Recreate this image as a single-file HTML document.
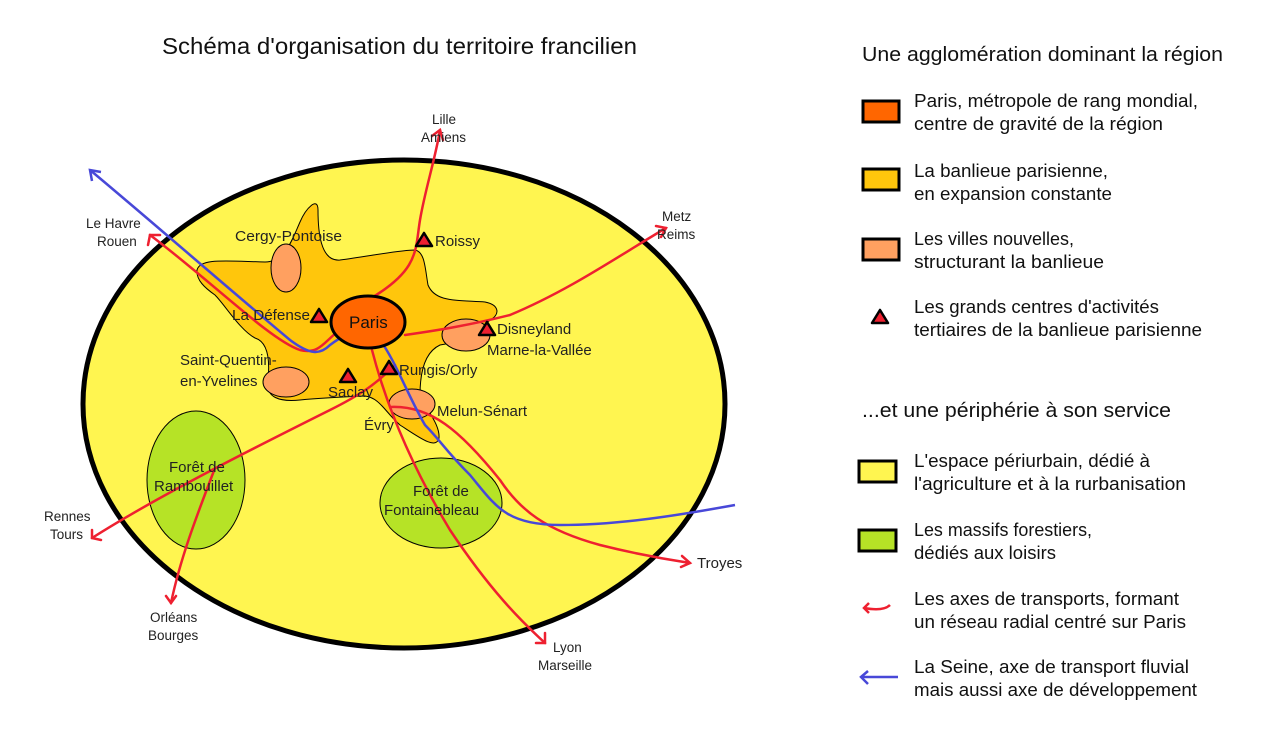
<!DOCTYPE html>
<html><head><meta charset="utf-8"><style>
html,body{margin:0;padding:0;background:#fff;}
svg{display:block;font-family:"Liberation Sans","DejaVu Sans",sans-serif;}
</style></head><body>
<svg width="1263" height="738" viewBox="0 0 1263 738" xmlns="http://www.w3.org/2000/svg">
<text x="162" y="54" font-size="23" fill="#111" textLength="475" lengthAdjust="spacingAndGlyphs">Schéma d'organisation du territoire francilien</text>

<ellipse cx="404" cy="404" rx="321" ry="244" fill="#fff550" stroke="#000" stroke-width="5"/>
<ellipse cx="196" cy="480" rx="49" ry="69" fill="#b6e326" stroke="#000" stroke-width="1"/>
<ellipse cx="441" cy="503" rx="61" ry="45" fill="#b6e326" stroke="#000" stroke-width="1"/>

<path d="M197,270 C200,258 225,261 265,262 C285,262 292,240 300,222 C306,208 318,196 318,210 C318,230 320,262 340,260 C370,256 400,250 415,250 C425,252 425,268 428,285 C435,302 455,300 485,302 C500,305 500,315 490,320 C480,330 465,342 440,345 C425,352 420,372 420,395 C428,412 440,425 439,438 C436,450 420,438 400,425 C385,412 380,398 365,396 C340,397 320,398 300,400 C280,402 265,398 268,380 C270,360 268,342 255,338 C240,330 225,305 215,295 C205,288 196,280 197,270 Z" fill="#ffc60c" stroke="#000" stroke-width="1"/>

<ellipse cx="286" cy="268" rx="15" ry="24" fill="#ffa060" stroke="#000" stroke-width="1"/>
<ellipse cx="286" cy="382" rx="23" ry="15" fill="#ffa060" stroke="#000" stroke-width="1"/>
<ellipse cx="466" cy="335" rx="24" ry="16" fill="#ffa060" stroke="#000" stroke-width="1"/>
<ellipse cx="412" cy="404" rx="23" ry="15" fill="#ffa060" stroke="#000" stroke-width="1"/>

<g fill="none" stroke="#ee2030" stroke-width="2.5" stroke-linecap="round">
<path d="M368,300 C420,270 415,250 420,220 C425,190 435,160 440,130"/>
<path d="M150,235 C210,280 270,340 300,350 C320,355 325,340 340,330"/>
<path d="M405,335 C440,330 470,325 510,315 C570,290 620,255 666,228"/>
<path d="M92,538 C160,495 250,450 330,410 C360,395 375,385 395,365"/>
<path d="M215,468 C195,520 180,560 171,603"/>
<path d="M372,350 C390,420 420,480 450,530 C490,590 520,620 545,643"/>
<path d="M390,407 C430,405 460,430 500,480 C520,510 545,530 600,545 C640,555 670,560 690,563"/>
</g>
<g fill="none" stroke="#ee2030" stroke-width="2.5" stroke-linecap="round">
<path d="M432,136 L440,130 L443,140"/>
<path d="M148,245 L150,235 L160,235"/>
<path d="M656,226 L666,228 L661,237"/>
<path d="M92,530 L92,538 L101,540"/>
<path d="M166,596 L171,603 L176,596"/>
<path d="M545,633 L545,643 L536,643"/>
<path d="M682,556 L690,563 L681,567"/>
</g>

<path d="M90,170 C150,220 230,290 290,340 C310,355 320,355 330,345 C350,330 368,325 380,340 C395,360 410,400 425,425 C440,440 445,450 470,475 C495,505 505,525 560,525 C620,525 680,515 735,505" fill="none" stroke="#4848d8" stroke-width="2.5"/>
<path d="M92,181 L90,170 L101,172" fill="none" stroke="#4848d8" stroke-width="2.5"/>

<ellipse cx="368" cy="322" rx="37" ry="26" fill="#ff6600" stroke="#000" stroke-width="3"/>
<text x="349" y="328" font-size="17" fill="#111">Paris</text>

<g fill="#ee2030" stroke="#000" stroke-width="2.5" stroke-linejoin="round">
<polygon points="424,233 432,246 416,246"/>
<polygon points="319,309 327,322 311,322"/>
<polygon points="487,322 495,335 479,335"/>
<polygon points="348,369 356,382 340,382"/>
<polygon points="389,361 397,374 381,374"/>
</g>

<g font-size="15" fill="#222">
<text x="235" y="241" textLength="107" lengthAdjust="spacingAndGlyphs">Cergy-Pontoise</text>
<text x="435" y="246">Roissy</text>
<text x="232" y="320" textLength="78" lengthAdjust="spacingAndGlyphs">La Défense</text>
<text x="497" y="334">Disneyland</text>
<text x="487" y="355">Marne-la-Vallée</text>
<text x="180" y="365">Saint-Quentin-</text>
<text x="180" y="386">en-Yvelines</text>
<text x="399" y="375">Rungis/Orly</text>
<text x="328" y="397">Saclay</text>
<text x="437" y="416">Melun-Sénart</text>
<text x="364" y="430">Évry</text>
<text x="169" y="472">Forêt de</text>
<text x="154" y="491">Rambouillet</text>
<text x="413" y="496">Forêt de</text>
<text x="384" y="515">Fontainebleau</text>
</g>
<g font-size="13.5" fill="#222">
<text x="432" y="124">Lille</text>
<text x="421" y="142">Amiens</text>
<text x="86" y="228">Le Havre</text>
<text x="97" y="246">Rouen</text>
<text x="662" y="221">Metz</text>
<text x="657" y="239">Reims</text>
<text x="44" y="521">Rennes</text>
<text x="50" y="539">Tours</text>
<text x="150" y="622">Orléans</text>
<text x="148" y="640">Bourges</text>
<text x="697" y="568" font-size="15">Troyes</text>
<text x="553" y="652">Lyon</text>
<text x="538" y="670">Marseille</text>
</g>

<g font-size="18" fill="#111">
<text x="862" y="61" font-size="20" textLength="361" lengthAdjust="spacingAndGlyphs">Une agglomération dominant la région</text>
<rect x="863" y="101" width="36" height="21" fill="#ff6600" stroke="#000" stroke-width="3"/>
<text x="914" y="107" textLength="284" lengthAdjust="spacingAndGlyphs">Paris, métropole de rang mondial,</text>
<text x="914" y="130" textLength="249" lengthAdjust="spacingAndGlyphs">centre de gravité de la région</text>
<rect x="863" y="169" width="36" height="21" fill="#ffc60c" stroke="#000" stroke-width="3"/>
<text x="914" y="177" textLength="194" lengthAdjust="spacingAndGlyphs">La banlieue parisienne,</text>
<text x="914" y="200" textLength="198" lengthAdjust="spacingAndGlyphs">en expansion constante</text>
<rect x="863" y="239" width="36" height="21" fill="#ffa060" stroke="#000" stroke-width="3"/>
<text x="914" y="245" textLength="160" lengthAdjust="spacingAndGlyphs">Les villes nouvelles,</text>
<text x="914" y="268" textLength="190" lengthAdjust="spacingAndGlyphs">structurant la banlieue</text>
<polygon points="880,310 888,323 872,323" fill="#ee2030" stroke="#000" stroke-width="2.5" stroke-linejoin="round"/>
<text x="914" y="313" textLength="245" lengthAdjust="spacingAndGlyphs">Les grands centres d'activités</text>
<text x="914" y="336" textLength="288" lengthAdjust="spacingAndGlyphs">tertiaires de la banlieue parisienne</text>
<text x="862" y="417" font-size="20" textLength="309" lengthAdjust="spacingAndGlyphs">...et une périphérie à son service</text>
<rect x="859" y="461" width="37" height="21" fill="#fff550" stroke="#000" stroke-width="3"/>
<text x="914" y="467" textLength="236" lengthAdjust="spacingAndGlyphs">L'espace périurbain, dédié à</text>
<text x="914" y="490" textLength="272" lengthAdjust="spacingAndGlyphs">l'agriculture et à la rurbanisation</text>
<rect x="859" y="530" width="37" height="21" fill="#b6e326" stroke="#000" stroke-width="3"/>
<text x="914" y="536" textLength="178" lengthAdjust="spacingAndGlyphs">Les massifs forestiers,</text>
<text x="914" y="559" textLength="142" lengthAdjust="spacingAndGlyphs">dédiés aux loisirs</text>
<path d="M864,608 C875,610 885,610 890,605" fill="none" stroke="#ee2030" stroke-width="2.5"/>
<path d="M869,603 L864,608 L869,613" fill="none" stroke="#ee2030" stroke-width="2.5"/>
<text x="914" y="605" textLength="265" lengthAdjust="spacingAndGlyphs">Les axes de transports, formant</text>
<text x="914" y="628" textLength="272" lengthAdjust="spacingAndGlyphs">un réseau radial centré sur Paris</text>
<path d="M861,677 L898,677" fill="none" stroke="#4848d8" stroke-width="2.5"/>
<path d="M868,671 L861,677 L868,684" fill="none" stroke="#4848d8" stroke-width="2.5"/>
<text x="914" y="673" textLength="275" lengthAdjust="spacingAndGlyphs">La Seine, axe de transport fluvial</text>
<text x="914" y="696" textLength="283" lengthAdjust="spacingAndGlyphs">mais aussi axe de développement</text>
</g>
</svg>
</body></html>
